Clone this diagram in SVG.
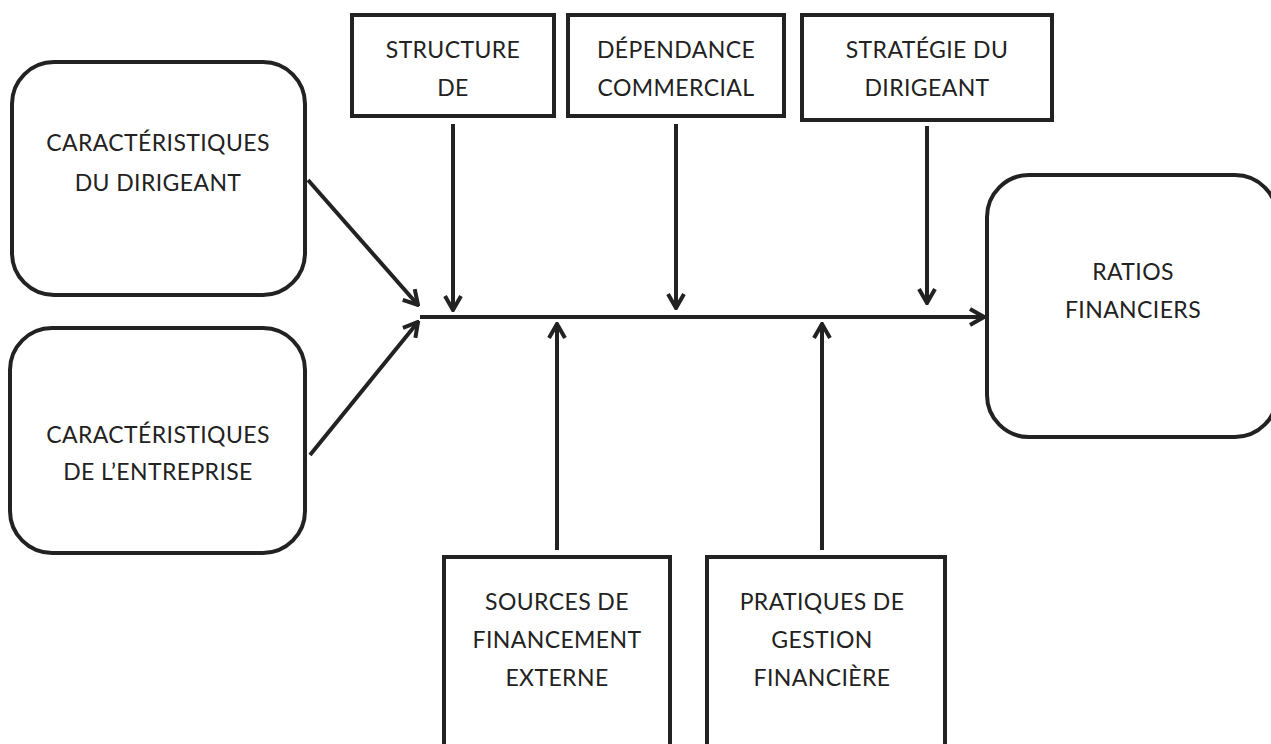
<svg xmlns="http://www.w3.org/2000/svg" width="1271" height="744" viewBox="0 0 1271 744">
<style>
.box{fill:#fff;stroke:#222;stroke-width:4}
.c{fill:none;stroke:#222;stroke-width:4}
text{font-family:Lato,"Open Sans",sans-serif;font-size:23px;letter-spacing:0.4px;fill:#222;text-anchor:middle}
</style>
<defs>
<marker id="ah" viewBox="0 0 20 20" refX="18" refY="10" markerWidth="20" markerHeight="20" markerUnits="userSpaceOnUse" orient="auto">
<path d="M4,2 L18,10 L4,18" fill="none" stroke="#222" stroke-width="4"/>
</marker>
</defs>
<rect width="1271" height="744" fill="#fff"/>
<g id="n-structure"><rect class="box" x="352" y="15" width="202" height="101"/><text x="453" y="58">STRUCTURE</text><text x="453" y="96">DE</text></g>
<g id="n-dependance"><rect class="box" x="568" y="15" width="216" height="101"/><text x="676" y="58">DÉPENDANCE</text><text x="676" y="96">COMMERCIAL</text></g>
<g id="n-strategie"><rect class="box" x="802" y="15" width="250" height="105"/><text x="927" y="58">STRATÉGIE DU</text><text x="927" y="96">DIRIGEANT</text></g>
<g id="n-car-dirigeant"><rect class="box" x="12" y="62" width="293" height="233" rx="42"/><text x="158" y="151">CARACTÉRISTIQUES</text><text x="158" y="191">DU DIRIGEANT</text></g>
<g id="n-car-entreprise"><rect class="box" x="10" y="328" width="295" height="225" rx="42"/><text x="158" y="443">CARACTÉRISTIQUES</text><text x="158" y="480">DE L’ENTREPRISE</text></g>
<g id="n-ratios"><rect class="box" x="987" y="175" width="290" height="262" rx="42"/><text x="1133" y="280">RATIOS</text><text x="1133" y="318">FINANCIERS</text></g>
<g id="n-sources"><rect class="box" x="444" y="557" width="226" height="200"/><text x="557" y="610">SOURCES DE</text><text x="557" y="648">FINANCEMENT</text><text x="557" y="686">EXTERNE</text></g>
<g id="n-pratiques"><rect class="box" x="707" y="557" width="238" height="200"/><text x="822" y="610">PRATIQUES DE</text><text x="822" y="648">GESTION</text><text x="822" y="686">FINANCIÈRE</text></g>
<g id="connectors">
<line class="c" x1="420" y1="317" x2="984" y2="317" marker-end="url(#ah)"/>
<line class="c" x1="453" y1="124" x2="453" y2="310" marker-end="url(#ah)"/>
<line class="c" x1="676" y1="124" x2="676" y2="308" marker-end="url(#ah)"/>
<line class="c" x1="927" y1="126" x2="927" y2="303" marker-end="url(#ah)"/>
<line class="c" x1="308" y1="180" x2="418" y2="305" marker-end="url(#ah)"/>
<line class="c" x1="310" y1="455" x2="418" y2="322" marker-end="url(#ah)"/>
<line class="c" x1="557" y1="550" x2="557" y2="324" marker-end="url(#ah)"/>
<line class="c" x1="822" y1="550" x2="822" y2="324" marker-end="url(#ah)"/>
</g>
</svg>
